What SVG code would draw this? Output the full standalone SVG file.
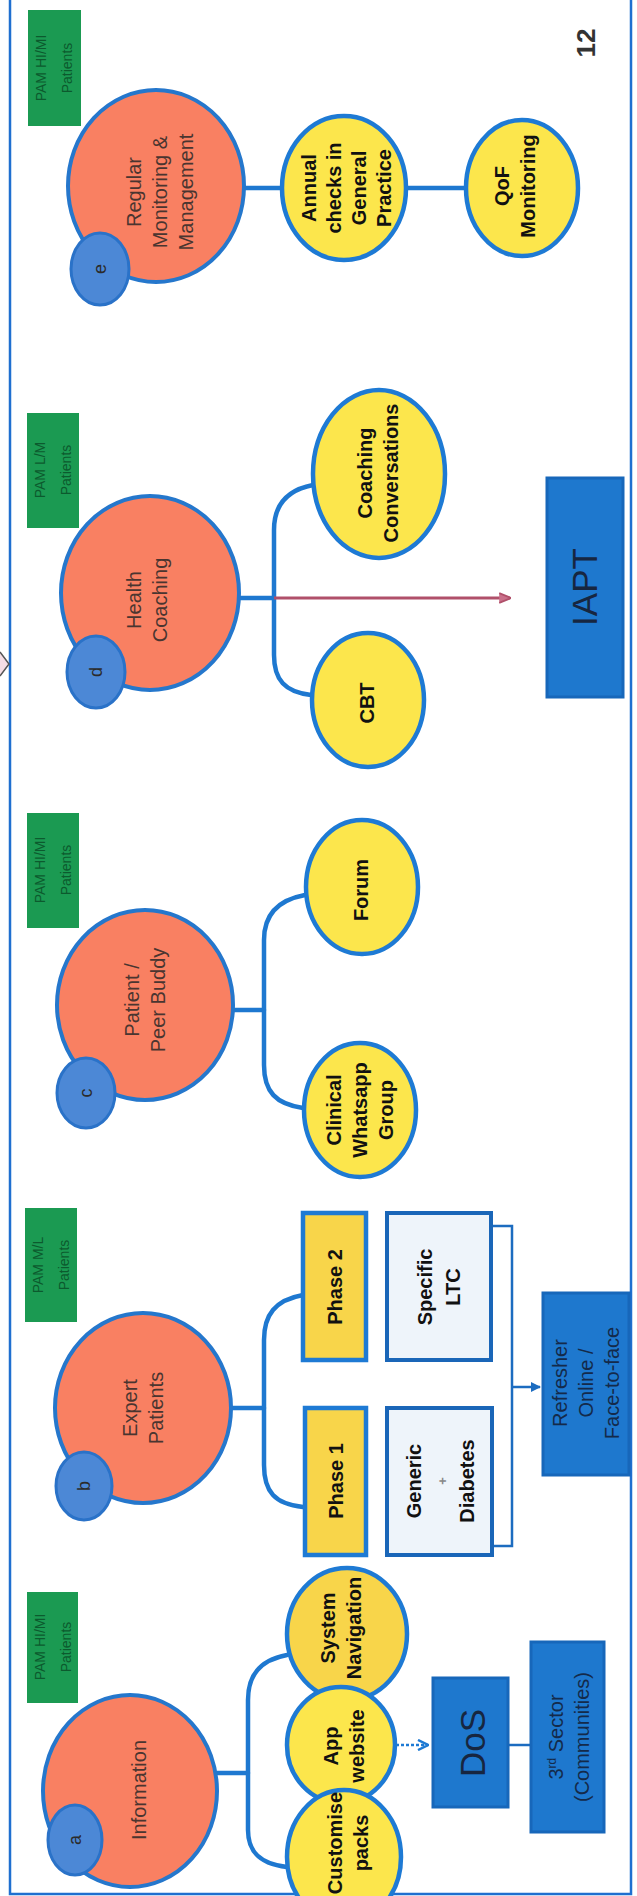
<svg xmlns="http://www.w3.org/2000/svg" width="637" height="1896" viewBox="0 0 637 1896">
<defs>
<style>
.sal{fill:#F98062;stroke:#2577CC;stroke-width:4}
.sm{fill:#4C88D6;stroke:#2A72C8;stroke-width:3}
.yel{fill:#FCE64C;stroke:#1E7AD4;stroke-width:4.5}
.gold{fill:#F8D54A;stroke:#1E7AD4;stroke-width:4.5}
.wbox{fill:#EEF4FA;stroke:#1A66B8;stroke-width:4}
.bbox{fill:#1E78CE;stroke:#1767BA;stroke-width:3}
.grn{fill:#1B9A52}
.con{fill:none;stroke:#1E78D0;stroke-width:4.5;stroke-linecap:round}
.thin{fill:none;stroke:#1C6CC0;stroke-width:2.5}
.t{font-family:"Liberation Sans",Arial,sans-serif;text-anchor:middle}
.ts{font-size:20px;fill:#4A3530}
.tb{font-size:20px;font-weight:bold;fill:#111}
.tl{font-size:18px;fill:#2B2B2B}
.tg{font-size:14px;fill:#0C5A2E}
.tblue{font-size:20px;fill:#142A4A}
.big{font-size:35px;fill:#172640}
</style>
<marker id="ah" viewBox="0 0 10 10" refX="9" refY="5" markerWidth="4" markerHeight="4" orient="auto"><path d="M0,0 L10,5 L0,10 z" fill="#1C6CC0"/></marker>
<marker id="ahp" viewBox="0 0 10 10" refX="9" refY="5" markerWidth="4" markerHeight="4" orient="auto"><path d="M0,1 L10,5 L0,9" fill="#C9708A" stroke="#B0506A" stroke-width="1.5"/></marker>
<marker id="ahd" viewBox="0 0 10 10" refX="9" refY="5" markerWidth="5" markerHeight="5" orient="auto"><path d="M1,1 L9,5 L1,9" fill="none" stroke="#1E7AD4" stroke-width="2"/></marker>
</defs>
<rect width="637" height="1896" fill="#ffffff"/>
<!-- frame -->
<path d="M10,-2 V1894 H631 V-2" fill="none" stroke="#1F6FD0" stroke-width="2.5"/>
<polyline points="0,652 9,664 0,676" fill="#F5DDE5" stroke="#555" stroke-width="1.5"/>

<g id="connectors">
<!-- a -->
<line x1="217" y1="1773" x2="248" y2="1773" class="con"/>
<path d="M287,1655 C260,1660 248,1675 248,1700 L248,1830 C248,1852 260,1864 287,1867" class="con"/>
<line x1="396" y1="1745" x2="428" y2="1745" fill="none" stroke="#1E7AD4" stroke-width="2.5" stroke-dasharray="3,2" marker-end="url(#ahd)"/>
<line x1="508" y1="1745" x2="531" y2="1745" class="thin" stroke-width="3"/>
<!-- b -->
<line x1="232" y1="1408" x2="264" y2="1408" class="con"/>
<path d="M303,1295 C275,1300 264,1315 264,1340 L264,1465 C264,1492 275,1504 303,1507" class="con"/>
<path d="M491,1226 H512 V1546 H492" class="thin"/>
<line x1="512" y1="1387" x2="540" y2="1387" class="thin" marker-end="url(#ah)"/>
<!-- c -->
<line x1="234" y1="1010" x2="264" y2="1010" class="con"/>
<path d="M305,895 C278,900 264,915 264,940 L264,1065 C264,1092 276,1104 303,1108" class="con"/>
<!-- d -->
<line x1="240" y1="598" x2="273" y2="598" class="con"/>
<path d="M313,485 C287,490 274,505 274,530 L274,655 C274,680 285,692 311,695" class="con"/>
<line x1="274" y1="598" x2="510" y2="598" stroke="#B0506A" stroke-width="3" marker-end="url(#ahp)"/>
<!-- e -->
<line x1="244" y1="188" x2="283" y2="188" class="con"/>
<line x1="406" y1="188" x2="467" y2="188" class="con"/>
</g>

<!-- a: Information -->
<g id="node-a">
<rect x="27" y="1592" width="51" height="111" class="grn"/>
<g transform="translate(53,1647) rotate(-90)"><text class="t tg"><tspan x="0" y="-8">PAM HI/MI</tspan><tspan x="0" y="18">Patients</tspan></text></g>
<ellipse cx="130" cy="1791" rx="87" ry="96" class="sal"/>
<ellipse cx="75" cy="1840" rx="27" ry="35" class="sm"/>
<g transform="translate(75,1840) rotate(-90)"><text class="t tl" y="6">a</text></g>
<g transform="translate(139,1790) rotate(-90)"><text class="t ts" y="7">Information</text></g>
</g>
<g id="node-sysnav">
<ellipse cx="347" cy="1634" rx="60" ry="66" class="gold"/>
<g transform="translate(341,1628) rotate(-90)"><text class="t tb"><tspan x="0" y="-6">System</tspan><tspan x="0" y="20">Navigation</tspan></text></g>
</g>
<g id="node-app">
<ellipse cx="341" cy="1745" rx="54" ry="58" class="yel"/>
<g transform="translate(344,1746) rotate(-90)"><text class="t tb"><tspan x="0" y="-6">App</tspan><tspan x="0" y="20">website</tspan></text></g>
</g>
<g id="node-customise">
<ellipse cx="344" cy="1857" rx="57" ry="67" class="yel"/>
<g transform="translate(348,1843) rotate(-90)"><text class="t tb"><tspan x="0" y="-6">Customise</tspan><tspan x="0" y="20">packs</tspan></text></g>
</g>
<g id="node-dos">
<rect x="433" y="1678" width="75" height="129" class="bbox"/>
<g transform="translate(473,1743) rotate(-90)"><text class="t big" y="12">DoS</text></g>
</g>
<g id="node-sector">
<rect x="531" y="1642" width="73" height="190" class="bbox"/>
<g transform="translate(569,1737) rotate(-90)"><text class="t tblue"><tspan x="0" y="-6">3<tspan font-size="12" dy="-7">rd</tspan><tspan dy="7"> Sector</tspan></tspan><tspan x="0" y="20">(Communities)</tspan></text></g>
</g>

<!-- b: Expert Patients -->
<g id="node-b">
<rect x="25" y="1208" width="52" height="114" class="grn"/>
<g transform="translate(51,1265) rotate(-90)"><text class="t tg"><tspan x="0" y="-8">PAM M/L</tspan><tspan x="0" y="18">Patients</tspan></text></g>
<ellipse cx="143" cy="1408" rx="88" ry="95" class="sal"/>
<ellipse cx="84" cy="1486" rx="28" ry="34" class="sm"/>
<g transform="translate(84,1486) rotate(-90)"><text class="t tl" y="6">b</text></g>
<g transform="translate(143,1408) rotate(-90)"><text class="t ts"><tspan x="0" y="-6">Expert</tspan><tspan x="0" y="20">Patients</tspan></text></g>
</g>
<g id="node-phase2">
<rect x="303" y="1213" width="63" height="147" class="gold" stroke-width="4"/>
<g transform="translate(335,1287) rotate(-90)"><text class="t tb" y="7">Phase 2</text></g>
</g>
<g id="node-phase1">
<rect x="305" y="1408" width="61" height="147" class="gold" stroke-width="4"/>
<g transform="translate(336,1481) rotate(-90)"><text class="t tb" y="7">Phase 1</text></g>
</g>
<g id="node-specific">
<rect x="387" y="1213" width="104" height="147" class="wbox"/>
<g transform="translate(439,1287) rotate(-90)"><text class="t tb" font-size="19"><tspan x="0" y="-7">Specific</tspan><tspan x="0" y="21">LTC</tspan></text></g>
</g>
<g id="node-generic">
<rect x="387" y="1408" width="105" height="147" class="wbox"/>
<g transform="translate(440,1481) rotate(-90)"><text class="t tb" font-size="19"><tspan x="0" y="-19">Generic</tspan><tspan x="0" y="7" font-size="13" fill="#888">+</tspan><tspan x="0" y="34">Diabetes</tspan></text></g>
</g>
<g id="node-refresher">
<rect x="543" y="1293" width="86" height="182" class="bbox"/>
<g transform="translate(586,1383) rotate(-90)"><text class="t tblue" font-size="19"><tspan x="0" y="-19">Refresher</tspan><tspan x="0" y="7">Online /</tspan><tspan x="0" y="33">Face-to-face</tspan></text></g>
</g>

<!-- c: Patient / Peer Buddy -->
<g id="node-c">
<rect x="27" y="813" width="52" height="115" class="grn"/>
<g transform="translate(53,870) rotate(-90)"><text class="t tg"><tspan x="0" y="-8">PAM HI/MI</tspan><tspan x="0" y="18">Patients</tspan></text></g>
<ellipse cx="145" cy="1005" rx="88" ry="95" class="sal"/>
<ellipse cx="86" cy="1093" rx="29" ry="35" class="sm"/>
<g transform="translate(86,1093) rotate(-90)"><text class="t tl" y="6">c</text></g>
<g transform="translate(145,1000) rotate(-90)"><text class="t ts"><tspan x="0" y="-6">Patient /</tspan><tspan x="0" y="20">Peer Buddy</tspan></text></g>
</g>
<g id="node-whatsapp">
<ellipse cx="360" cy="1110" rx="56" ry="67" class="yel"/>
<g transform="translate(360,1110) rotate(-90)"><text class="t tb"><tspan x="0" y="-19">Clinical</tspan><tspan x="0" y="7">Whatsapp</tspan><tspan x="0" y="33">Group</tspan></text></g>
</g>
<g id="node-forum">
<ellipse cx="362" cy="887" rx="56" ry="67" class="yel"/>
<g transform="translate(361,890) rotate(-90)"><text class="t tb" y="7">Forum</text></g>
</g>

<!-- d: Health Coaching -->
<g id="node-d">
<rect x="27" y="413" width="52" height="115" class="grn"/>
<g transform="translate(53,470) rotate(-90)"><text class="t tg"><tspan x="0" y="-8">PAM L/M</tspan><tspan x="0" y="18">Patients</tspan></text></g>
<ellipse cx="150" cy="593" rx="89" ry="97" class="sal"/>
<ellipse cx="96" cy="672" rx="29" ry="36" class="sm"/>
<g transform="translate(96,672) rotate(-90)"><text class="t tl" y="6">d</text></g>
<g transform="translate(147,600) rotate(-90)"><text class="t ts"><tspan x="0" y="-6">Health</tspan><tspan x="0" y="20">Coaching</tspan></text></g>
</g>
<g id="node-cbt">
<ellipse cx="368" cy="700" rx="56" ry="67" class="yel"/>
<g transform="translate(367,703) rotate(-90)"><text class="t tb" y="7">CBT</text></g>
</g>
<g id="node-coaching">
<ellipse cx="379" cy="474" rx="66" ry="84" class="yel"/>
<g transform="translate(378,473) rotate(-90)"><text class="t tb"><tspan x="0" y="-6">Coaching</tspan><tspan x="0" y="20">Conversations</tspan></text></g>
</g>
<g id="node-iapt">
<rect x="547" y="478" width="76" height="219" class="bbox"/>
<g transform="translate(585,587) rotate(-90)"><text class="t big" font-size="36" y="12">IAPT</text></g>
</g>

<!-- e: Regular Monitoring -->
<g id="node-e">
<rect x="28" y="10" width="53" height="116" class="grn"/>
<g transform="translate(54,68) rotate(-90)"><text class="t tg"><tspan x="0" y="-8">PAM HI/MI</tspan><tspan x="0" y="18">Patients</tspan></text></g>
<ellipse cx="156" cy="186" rx="88" ry="96" class="sal"/>
<ellipse cx="100" cy="269" rx="29" ry="36" class="sm"/>
<g transform="translate(100,269) rotate(-90)"><text class="t tl" y="6">e</text></g>
<g transform="translate(160,192) rotate(-90)"><text class="t ts"><tspan x="0" y="-19">Regular</tspan><tspan x="0" y="7">Monitoring &amp;</tspan><tspan x="0" y="33">Management</tspan></text></g>
</g>
<g id="node-annual">
<ellipse cx="344" cy="188" rx="62" ry="72" class="yel"/>
<g transform="translate(347,188) rotate(-90)"><text class="t tb" font-size="19"><tspan x="0" y="-31">Annual</tspan><tspan x="0" y="-6">checks in</tspan><tspan x="0" y="19">General</tspan><tspan x="0" y="44">Practice</tspan></text></g>
</g>
<g id="node-qof">
<ellipse cx="522" cy="188" rx="56" ry="68" class="yel"/>
<g transform="translate(515,186) rotate(-90)"><text class="t tb"><tspan x="0" y="-6">QoF</tspan><tspan x="0" y="20">Monitoring</tspan></text></g>
</g>
<g transform="translate(586,43) rotate(-90)"><text class="t" font-size="26" font-weight="bold" fill="#333" y="9">12</text></g>
</svg>
